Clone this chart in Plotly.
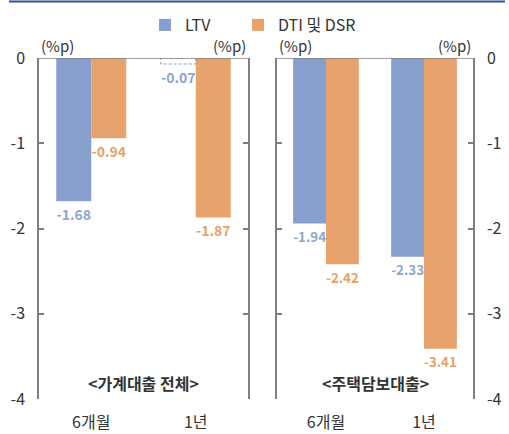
import plotly.graph_objects as go
from plotly.subplots import make_subplots

# Data
periods = ["6개월", "1년"]
panels = ["<가계대출 전체>", "<주택담보대출>"]
ltv_household = [-1.68, -0.07]
dti_household = [-0.94, -1.87]
ltv_mortgage = [-1.94, -2.33]
dti_mortgage = [-2.42, -3.41]
y_ticks = [0, -1, -2, -3, -4]

LTV_COLOR = "#879FCD"
DTI_COLOR = "#E8A36D"
LTV_TEXT = "#8DA5D3"
DTI_TEXT = "#E9A066"
FONT = "Noto Sans CJK KR"
BARGAP = 0.33

fig = make_subplots(rows=1, cols=2)

def fmt(v):
    return f"{v:.2f}"

# values too small to show as a solid bar are drawn as a dashed outline
SMALL = 0.1

series = [
    (1, ltv_household, dti_household),
    (2, ltv_mortgage, dti_mortgage),
]
for col, ltv, dti in series:
    ltv_fill = ["rgba(0,0,0,0)" if abs(v) < SMALL else LTV_COLOR for v in ltv]
    fig.add_trace(go.Bar(
        x=periods, y=ltv, name="LTV", marker=dict(color=ltv_fill, line=dict(width=0)),
        text=[fmt(v) for v in ltv], textposition="outside", cliponaxis=False,
        textfont=dict(color=LTV_TEXT, size=14, family=FONT, weight="bold"),
        showlegend=(col == 1), legend="legend",
    ), row=1, col=col)
    fig.add_trace(go.Bar(
        x=periods, y=dti, name="DTI 및 DSR", marker=dict(color=DTI_COLOR, line=dict(width=0)),
        text=[fmt(v) for v in dti], textposition="outside", cliponaxis=False,
        textfont=dict(color=DTI_TEXT, size=14, family=FONT, weight="bold"),
        showlegend=(col == 1), legend="legend2",
    ), row=1, col=col)
    # dashed outline for the tiny LTV bars
    for i, v in enumerate(ltv):
        if abs(v) < SMALL:
            half = (1 - BARGAP) / 2
            fig.add_shape(type="rect", xref=f"x{'' if col == 1 else col}",
                          yref=f"y{'' if col == 1 else col}",
                          x0=i - half, x1=i, y0=0, y1=v,
                          line=dict(color=LTV_COLOR, width=1, dash="3px,2px"),
                          fillcolor="rgba(0,0,0,0)")

axis_color = "#7F7F7F"
xdom = [[39 / 509, 248 / 509], [277 / 509, 473 / 509]]
ydom = [1 - 399 / 434, 1 - 58 / 434]

for col in (1, 2):
    fig.update_xaxes(domain=xdom[col - 1], showline=False, ticks="", showgrid=False,
                     automargin=False,
                     tickfont=dict(size=16, color="#333333", family=FONT),
                     ticklabelstandoff=12, row=1, col=col)
    fig.update_yaxes(domain=ydom, range=[-4, 0], tickvals=y_ticks,
                     ticktext=[str(t) for t in y_ticks], automargin=False,
                     showline=True, linecolor=axis_color, linewidth=1.5,
                     ticks="inside", ticklen=5, tickwidth=1.5, tickcolor=axis_color,
                     mirror="ticks", showgrid=False, zeroline=False,
                     side="left" if col == 1 else "right",
                     tickfont=dict(size=16, color="#333333", family=FONT),
                     ticklabelstandoff=9, row=1, col=col)
    # top edge of each panel
    xr = "x" if col == 1 else "x2"
    yr = "y" if col == 1 else "y2"
    fig.add_shape(type="line", xref=f"{xr} domain", yref=yr, x0=0, x1=1, y0=0, y1=0,
                  line=dict(color=axis_color, width=1.5))
    # panel title
    fig.add_annotation(x=sum(xdom[col - 1]) / 2, y=1 - 383 / 434, xref="paper", yref="paper",
                       xanchor="center", yanchor="middle",
                       text=f"<b>{panels[col - 1]}</b>", showarrow=False,
                       font=dict(size=16, color="#333333", family=FONT))
    # unit labels
    for xpos, anchor in ((xdom[col - 1][0], "left"), (xdom[col - 1][1], "right")):
        fig.add_annotation(x=xpos, y=1 - 46 / 434, xref="paper", yref="paper",
                           xanchor=anchor, yanchor="middle", text="(%p)", showarrow=False,
                           font=dict(size=15, color="#333333", family=FONT))

# rule across the top of the page
fig.add_shape(type="line", xref="paper", yref="paper", x0=9 / 509, x1=505 / 509,
              y0=1 - 1.5 / 434, y1=1 - 1.5 / 434, line=dict(color="#2F4E8E", width=2))

legend_style = dict(orientation="h", xanchor="left", y=1 - 8 / 434, yanchor="top",
                    font=dict(size=16, color="#333333", family=FONT),
                    bgcolor="rgba(0,0,0,0)")

fig.update_layout(
    width=509, height=434, margin=dict(l=0, r=0, t=0, b=0),
    paper_bgcolor="white", plot_bgcolor="white",
    barmode="group", bargap=BARGAP, bargroupgap=0,
    font=dict(family=FONT, color="#333333"),
    legend=dict(x=145 / 509, **legend_style),
    legend2=dict(x=238 / 509, **legend_style),
)

fig.write_html("out.html")
